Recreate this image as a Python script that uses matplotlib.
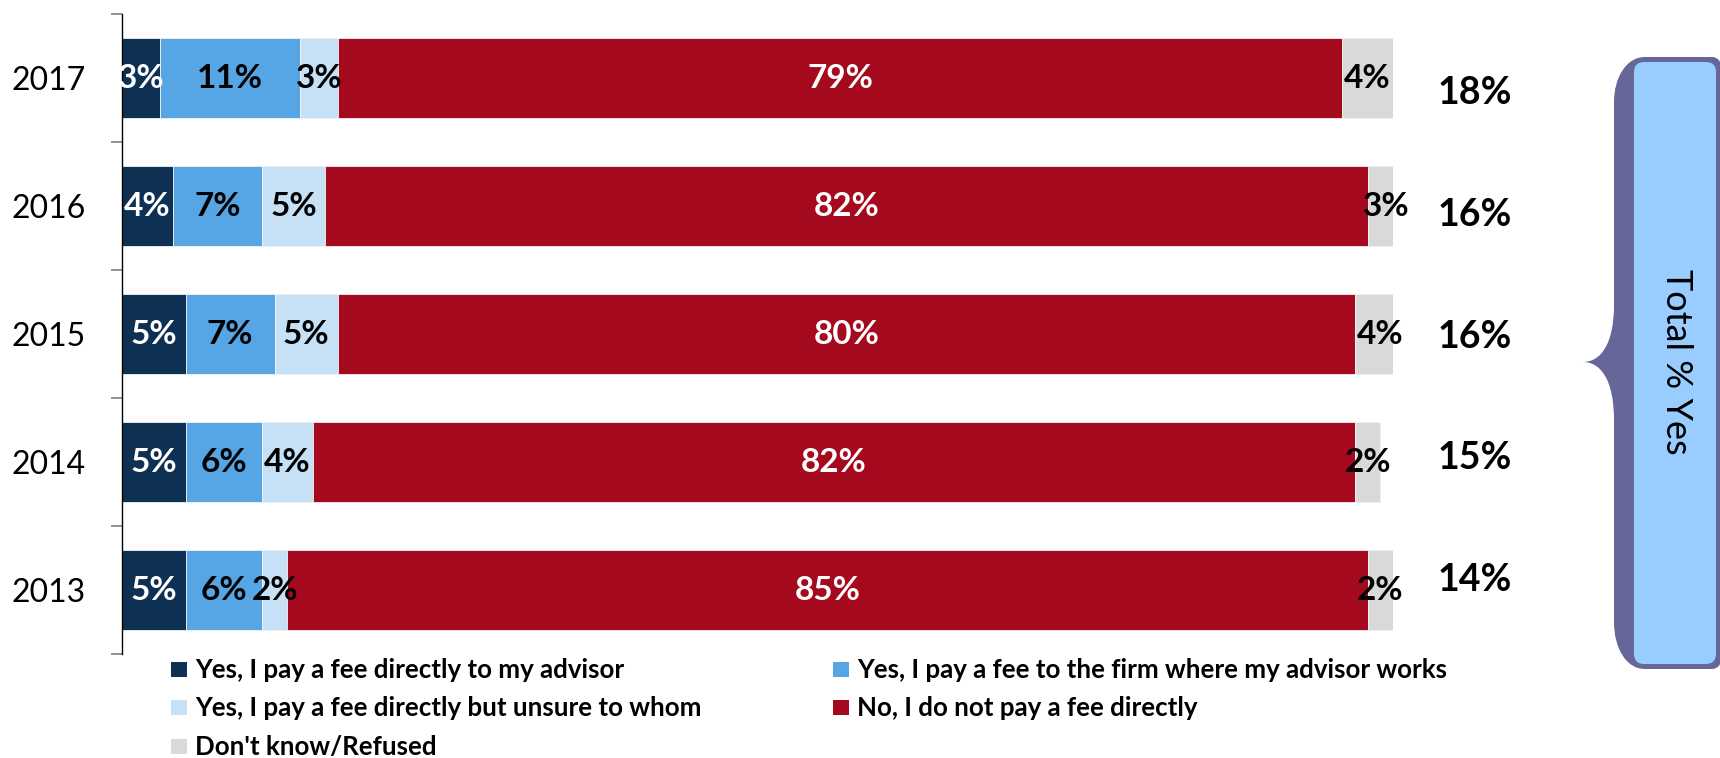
import numpy as np
import matplotlib
matplotlib.use("Agg")
import matplotlib.pyplot as plt
from matplotlib.path import Path
from matplotlib.patches import PathPatch, FancyBboxPatch, Rectangle
from matplotlib.transforms import Affine2D

plt.rcParams['font.family'] = ['Lato', 'DejaVu Sans']

# ---- data -------------------------------------------------------------
years = ['2017', '2016', '2015', '2014', '2013']
fee_to_advisor = [3, 4, 5, 5, 5]
fee_to_firm = [11, 7, 7, 6, 6]
fee_unsure_whom = [3, 5, 5, 4, 2]
no_fee = [79, 82, 80, 82, 85]
dont_know = [4, 3, 4, 2, 2]
total_yes = [18, 16, 16, 15, 14]

series_names = [
    "Yes, I pay a fee directly to my advisor",
    "Yes, I pay a fee to the firm where my advisor works",
    "Yes, I pay a fee directly but unsure to whom",
    "No, I do not pay a fee directly",
    "Don't know/Refused",
]
series_values = [fee_to_advisor, fee_to_firm, fee_unsure_whom, no_fee, dont_know]
series_colors = ['#0E3153', '#56A6E6', '#C6E0F6', '#A5091D', '#D9D9D9']
label_colors = ['white', 'black', 'black', 'white', 'black']

# ---- figure -----------------------------------------------------------
W, H = 1720, 758
fig = plt.figure(figsize=(W / 100, H / 100), dpi=100)
px = Affine2D().scale(1 / W, -1 / H).translate(0, 1) + fig.transFigure

ax = fig.add_axes([122 / W, 1 - 654 / H, 1271 / W, 640 / H])
y = np.arange(len(years))
left = np.zeros(len(years))
for vals, col, lcol in zip(series_values, series_colors, label_colors):
    vals = np.array(vals, dtype=float)
    ax.barh(y, vals, left=left, height=0.625, color=col,
            edgecolor='#F2F2F2', linewidth=0.6)
    for yi, (l, v) in enumerate(zip(left, vals)):
        ax.text(l + v / 2, yi, f"{int(v)}%", ha='center', va='center',
                fontsize=24, fontweight='bold', color=lcol)
    left += vals

ax.set_xlim(0, 100)
ax.set_ylim(len(years) - 0.5, -0.5)
for s in ['top', 'right', 'bottom']:
    ax.spines[s].set_visible(False)
ax.spines['left'].set_color('black')
ax.spines['left'].set_linewidth(1.0)
ax.xaxis.set_visible(False)
ax.set_yticks(y)
ax.set_yticklabels(years, fontsize=23)
ax.tick_params(axis='y', which='major', length=0, pad=26)
ax.set_yticks(np.arange(len(years) + 1) - 0.5, minor=True)
ax.tick_params(axis='y', which='minor', length=8, width=1.2, color='#808080')

# ---- totals column ------------------------------------------------------
total_y = np.linspace(93, 580, len(total_yes))
for t, ty in zip(total_yes, total_y):
    fig.text(1475 / W, 1 - ty / H, f"{t}%", ha='center', va='center',
             fontsize=27, fontweight='bold', color='black')

# ---- brace callout ------------------------------------------------------
verts = [
    (1712, 57), (1645, 57),
    (1626, 57), (1614, 78), (1614, 102),
    (1614, 305),
    (1614, 345), (1600, 362), (1583, 362),
    (1600, 362), (1614, 379), (1614, 420),
    (1614, 622),
    (1614, 648), (1626, 669), (1645, 669),
    (1712, 669),
    (1717, 669), (1721, 665), (1721, 660),
    (1721, 66),
    (1721, 61), (1717, 57), (1712, 57),
    (1712, 57),
]
codes = [Path.MOVETO, Path.LINETO,
         Path.CURVE4, Path.CURVE4, Path.CURVE4,
         Path.LINETO,
         Path.CURVE4, Path.CURVE4, Path.CURVE4,
         Path.CURVE4, Path.CURVE4, Path.CURVE4,
         Path.LINETO,
         Path.CURVE4, Path.CURVE4, Path.CURVE4,
         Path.LINETO,
         Path.CURVE4, Path.CURVE4, Path.CURVE4,
         Path.LINETO,
         Path.CURVE4, Path.CURVE4, Path.CURVE4,
         Path.CLOSEPOLY]
fig.patches.append(PathPatch(Path(verts, codes), transform=px,
                             facecolor='#666699', edgecolor='none'))
fig.patches.append(FancyBboxPatch((1634, 62), 1716 - 1634, 664 - 62,
                                  boxstyle="round,pad=0,rounding_size=10",
                                  transform=px, facecolor='#99CCFF',
                                  edgecolor='none'))
fig.text(1677 / W, 1 - 362 / H, "Total % Yes", rotation=-90,
         ha='center', va='center', fontsize=26, color='black')

# ---- legend (two columns, filled row by row) -----------------------------
legend_cols = [(171, 195), (833, 857)]
legend_rows = [670, 708, 747]
for i, (name, col) in enumerate(zip(series_names, series_colors)):
    mx, tx = legend_cols[i % 2]
    ry = legend_rows[i // 2]
    fig.patches.append(Rectangle((mx, ry - 8), 16, 15, transform=px,
                                 facecolor=col, edgecolor='none'))
    fig.text(tx / W, 1 - ry / H, name, ha='left', va='center',
             fontsize=18.6, fontweight='bold', color='black')

fig.savefig('out.png', dpi=100)
